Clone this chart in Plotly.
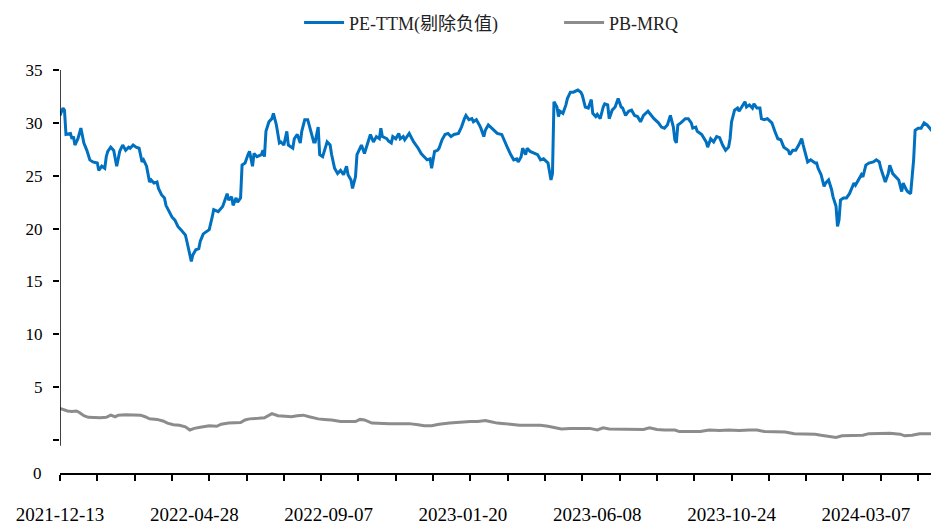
import plotly.graph_objects as go

# ---- data (x = trading-day number counted from 2021-12-13) ----
tick_labels = ["2021-12-13", "2022-04-28", "2022-09-07", "2023-01-20",
               "2023-06-08", "2023-10-24", "2024-03-07"]
tick_days = [0, 90, 180, 270, 360, 450, 540]

pe_day = [0, 2, 3, 4, 7, 8, 9, 10, 12, 14, 16, 18, 20, 22, 25, 26, 28, 30, 31, 32,
          34, 36, 38, 40, 41, 42, 44, 46, 47, 49, 51, 53, 55, 56, 58, 60, 61, 63, 65, 66,
          68, 70, 71, 73, 75, 77, 79, 81, 84, 85, 87, 88, 89, 91, 93, 94, 96, 98, 100, 102,
          103, 106, 107, 109, 110, 112, 113, 115, 116, 118, 119, 121, 122, 124, 126, 127, 129, 130, 132, 135,
          136, 137, 138, 140, 142, 143, 145, 147, 148, 150, 152, 153, 156, 157, 159, 161, 162, 164, 166, 168,
          170, 171, 173, 174, 176, 179, 181, 182, 184, 186, 188, 190, 192, 193, 195, 196, 198, 199, 201, 202,
          204, 206, 208, 210, 212, 214, 215, 216, 219, 220, 222, 223, 225, 227, 228, 230, 231, 234, 235, 237,
          240, 242, 244, 246, 248, 249, 251, 253, 254, 256, 258, 260, 262, 264, 267, 269, 271, 272, 274, 276,
          277, 279, 281, 282, 284, 285, 287, 289, 291, 293, 296, 298, 300, 302, 304, 306, 307, 309, 310, 312,
          313, 315, 318, 320, 322, 324, 327, 328, 329, 330, 331, 333, 334, 335, 337, 339, 340, 342, 344, 347,
          349, 350, 352, 354, 356, 357, 359, 360, 362, 364, 365, 367, 368, 370, 372, 374, 376, 377, 379, 381,
          383, 385, 387, 389, 391, 394, 396, 398, 401, 403, 405, 407, 409, 411, 412, 413, 414, 416, 419, 421,
          423, 424, 426, 427, 430, 431, 433, 434, 436, 438, 440, 442, 444, 446, 448, 449, 450, 452, 454, 455,
          457, 459, 460, 462, 464, 465, 467, 469, 470, 472, 474, 477, 479, 481, 483, 485, 488, 489, 491, 493,
          495, 497, 498, 500, 501, 503, 506, 507, 508, 510, 512, 513, 515, 517, 518, 520, 521, 522, 523, 525,
          527, 529, 530, 532, 533, 535, 537, 538, 540, 542, 545, 547, 549, 550, 552, 553, 555, 556, 558, 560,
          562, 564, 565, 567, 568, 570, 572, 573, 575, 577, 579, 581, 584, 585, 587, 589]
pe_ttm = [30.7, 31.4, 31.2, 28.9, 29.0, 28.5, 28.7, 27.9, 28.5, 29.5, 28.1, 27.4, 26.5, 26.3, 26.2, 25.5, 25.9, 25.7, 26.8, 27.3,
          27.7, 27.4, 25.9, 27.3, 27.6, 27.9, 27.4, 27.7, 27.6, 27.9, 27.7, 27.6, 26.3, 26.5, 25.9, 24.4, 24.6, 24.3, 24.4, 23.8,
          23.2, 22.9, 22.2, 21.6, 21.1, 20.8, 20.2, 19.9, 19.4, 18.8, 17.5, 16.9, 17.5, 18.0, 18.1, 18.8, 19.5, 19.7, 19.9, 21.1,
          21.8, 21.6, 21.8, 22.1, 22.5, 23.3, 22.7, 23.0, 22.2, 22.9, 22.5, 22.9, 26.0, 26.2, 27.0, 27.3, 25.9, 27.1, 26.8, 27.0,
          27.4, 26.8, 29.2, 30.1, 30.4, 30.9, 29.8, 28.1, 28.2, 27.9, 29.2, 27.9, 27.6, 28.5, 28.9, 28.1, 29.2, 30.3, 30.3, 29.2,
          28.2, 28.2, 29.6, 27.0, 26.8, 28.2, 27.9, 27.0, 25.7, 25.2, 25.5, 25.1, 25.9, 25.1, 24.6, 23.8, 24.9, 27.0, 27.6, 27.9,
          27.1, 28.1, 28.9, 28.2, 28.7, 28.5, 29.5, 28.7, 28.5, 28.3, 28.1, 28.7, 28.5, 29.0, 28.5, 28.7, 28.4, 29.0, 28.7, 28.2,
          27.6, 27.1, 26.8, 26.5, 26.6, 25.7, 27.3, 27.4, 27.6, 28.4, 28.9, 29.0, 28.7, 28.9, 29.0, 29.6, 30.4, 30.7, 30.3, 30.4,
          30.1, 30.3, 29.8, 29.5, 28.7, 29.3, 29.8, 29.5, 29.3, 29.0, 28.9, 28.2, 27.6, 27.0, 26.5, 26.6, 26.3, 26.8, 27.6, 27.0,
          27.6, 27.3, 27.1, 27.0, 26.5, 26.6, 26.2, 25.5, 24.6, 25.2, 32.0, 31.5, 30.6, 31.1, 30.9, 31.7, 32.3, 32.9, 32.9, 33.1,
          32.9, 32.6, 31.5, 31.4, 32.2, 30.9, 30.6, 30.8, 30.4, 31.5, 31.8, 31.7, 30.4, 31.2, 31.5, 32.3, 31.5, 31.4, 30.7, 31.1,
          31.2, 30.7, 30.6, 30.1, 30.7, 31.1, 30.7, 30.4, 30.0, 29.6, 29.5, 29.8, 30.7, 29.6, 28.4, 28.1, 29.8, 30.0, 30.4, 30.4,
          30.0, 29.5, 29.6, 29.2, 28.9, 28.7, 28.2, 27.7, 28.5, 28.2, 28.7, 28.6, 27.9, 27.4, 27.7, 28.5, 30.1, 31.2, 31.4, 31.1,
          31.5, 32.0, 31.5, 31.7, 31.4, 31.8, 31.4, 31.4, 30.4, 30.3, 30.4, 30.0, 29.2, 28.5, 28.4, 27.7, 27.4, 27.0, 27.4, 27.4,
          27.9, 28.5, 27.9, 26.8, 26.3, 26.5, 26.2, 26.2, 25.7, 25.1, 24.0, 24.3, 24.6, 23.7, 23.0, 22.1, 20.2, 20.8, 22.7, 22.9,
          22.9, 23.3, 23.7, 24.3, 24.1, 24.6, 25.1, 24.9, 26.0, 26.2, 26.3, 26.5, 26.3, 25.7, 24.7, 24.4, 25.2, 26.0, 25.2, 24.9,
          24.6, 23.5, 24.3, 23.7, 23.5, 23.3, 26.5, 29.3, 29.5, 29.5, 30.0, 29.8, 29.3, 29.6, 29.2, 29.0]

pb_day = [0, 2, 5, 8, 11, 13, 16, 19, 23, 27, 31, 34, 37, 39, 44, 48, 54, 57, 60, 65,
          69, 72, 76, 80, 84, 87, 90, 94, 97, 100, 105, 108, 113, 117, 121, 124, 127, 133, 137, 142,
          146, 151, 155, 159, 163, 167, 173, 177, 182, 188, 193, 198, 201, 204, 209, 214, 221, 228, 234, 240,
          244, 249, 254, 261, 268, 275, 280, 285, 288, 293, 298, 303, 308, 315, 322, 327, 333, 336, 342, 348,
          355, 360, 364, 368, 375, 383, 391, 395, 400, 405, 412, 415, 422, 429, 435, 442, 448, 455, 462, 467,
          472, 479, 486, 492, 499, 506, 510, 516, 520, 524, 532, 538, 542, 549, 556, 563, 566, 571, 576, 583,
          589]
pb_mrq = [3.0, 2.9, 2.75, 2.7, 2.75, 2.6, 2.3, 2.15, 2.1, 2.1, 2.15, 2.35, 2.2, 2.35, 2.4, 2.4, 2.35, 2.2, 2.0, 1.95,
          1.8, 1.6, 1.45, 1.4, 1.25, 0.95, 1.1, 1.2, 1.25, 1.35, 1.3, 1.5, 1.6, 1.65, 1.65, 1.9, 2.0, 2.05, 2.1, 2.5,
          2.3, 2.25, 2.2, 2.3, 2.35, 2.2, 2.0, 1.95, 1.9, 1.75, 1.75, 1.75, 1.95, 1.9, 1.6, 1.55, 1.55, 1.55, 1.55, 1.45,
          1.35, 1.35, 1.5, 1.6, 1.7, 1.75, 1.75, 1.85, 1.75, 1.6, 1.55, 1.45, 1.4, 1.4, 1.4, 1.3, 1.15, 1.05, 1.1, 1.1,
          1.1, 0.95, 1.15, 1.05, 1.05, 1.05, 1.0, 1.15, 1.0, 0.95, 0.95, 0.8, 0.8, 0.8, 0.95, 0.9, 0.95, 0.9, 0.95, 0.95,
          0.8, 0.8, 0.75, 0.6, 0.6, 0.55, 0.45, 0.35, 0.25, 0.4, 0.4, 0.45, 0.6, 0.6, 0.65, 0.55, 0.4, 0.45, 0.6, 0.6,
          0.5]

minor_tick_days = list(range(0, 590, 25))
y_ticks = [0, 5, 10, 15, 20, 25, 30, 35]
y_ticktext = ["", "5", "10", "15", "20", "25", "30", "35"]

FONT = "Liberation Serif, Noto Sans CJK SC, serif"
X_MAX = 589
Y_MIN, Y_MAX = -3.12, 35

fig = go.Figure()
fig.add_trace(go.Scatter(x=pe_day, y=pe_ttm, mode="lines", name="PE-TTM(剔除负值)",
                         line=dict(color="#0070C0", width=3), xaxis="x", yaxis="y"))
fig.add_trace(go.Scatter(x=pb_day, y=pb_mrq, mode="lines", name="PB-MRQ",
                         line=dict(color="#8C8C8C", width=3), xaxis="x2", yaxis="y"))

# the page body adds an 8px offset, so the figure is sized/margined to compensate
fig.update_layout(
    width=931, height=517,
    margin=dict(l=52, r=0, t=62, b=52, autoexpand=False),
    paper_bgcolor="white", plot_bgcolor="white",
    font=dict(family=FONT, color="black"),
    showlegend=True,
    legend=dict(orientation="h", x=0.272, xanchor="left", y=1.163, yanchor="top",
                font=dict(family=FONT, size=18, color="#222"), itemwidth=40,
                entrywidth=205, tracegroupgap=0, bgcolor="rgba(0,0,0,0)"),
    xaxis=dict(range=[0, X_MAX], tickvals=minor_tick_days, automargin=False,
               ticktext=["" for _ in minor_tick_days], ticks="outside", ticklen=6,
               tickwidth=1.5, tickcolor="black", showline=True, linecolor="black",
               linewidth=1.5, showgrid=False, zeroline=False),
    xaxis2=dict(range=[0, X_MAX], overlaying="x", side="bottom", tickvals=tick_days,
                ticktext=tick_labels, ticks="", showline=False, showgrid=False,
                zeroline=False, automargin=False,
                tickfont=dict(family=FONT, size=19, color="black"),
                ticklabelstandoff=28),
    yaxis=dict(range=[Y_MIN, Y_MAX], tickvals=y_ticks, ticktext=y_ticktext,
               ticks="outside", ticklen=6, tickwidth=1.5, tickcolor="black",
               showline=False, showgrid=False, zeroline=False, automargin=False,
               tickfont=dict(family=FONT, size=17, color="black"),
               ticklabelstandoff=7),
    shapes=[dict(type="line", xref="x", yref="y", x0=0, x1=0, y0=-0.55, y1=Y_MAX,
                 line=dict(color="black", width=1.5))],
    annotations=[dict(text="0", xref="paper", yref="y", x=0, y=Y_MIN, xanchor="right",
                      yanchor="middle", xshift=-16, showarrow=False,
                      font=dict(family=FONT, size=17, color="black"))],
)

fig.write_html("out.html")
